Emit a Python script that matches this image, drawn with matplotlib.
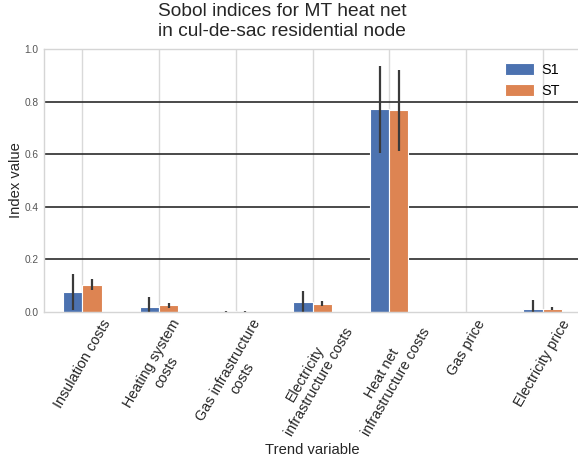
import matplotlib
matplotlib.use("Agg")
import matplotlib.pyplot as plt
import numpy as np

categories = ["Insulation costs", "Heating system\ncosts", "Gas infrastructure\ncosts",
              "Electricity\ninfrastructure costs", "Heat net\ninfrastructure costs",
              "Gas price", "Electricity price"]
s1 = [0.075, 0.018, 0.001, 0.037, 0.771, 0.0, 0.012]
s1_err = [0.068, 0.037, 0.003, 0.040, 0.166, 0.0, 0.032]
st = [0.102, 0.024, 0.0005, 0.030, 0.768, 0.0, 0.012]
st_err = [0.021, 0.009, 0.002, 0.010, 0.155, 0.0, 0.007]
series_names = ["S1", "ST"]
yticks = [0.0, 0.2, 0.4, 0.6, 0.8, 1.0]

plt.rcParams['font.family'] = ['Liberation Sans', 'DejaVu Sans']

W, H = 578, 463
fig = plt.figure(figsize=(W / 100, H / 100), dpi=100)
ax = fig.add_axes([44 / W, 1 - 311.7 / H, 537 / W, 262.4 / H])

x = np.arange(len(categories))
bw = 0.25
blue, orange = "#4C72B0", "#DD8452"
ekw = dict(ecolor="#3a3a3a", elinewidth=1.6, capsize=0)
ax.bar(x - bw / 2, s1, bw, yerr=s1_err, color=blue, edgecolor="white", linewidth=0.8,
       label=series_names[0], error_kw=ekw, zorder=2)
ax.bar(x + bw / 2, st, bw, yerr=st_err, color=orange, edgecolor="white", linewidth=0.8,
       label=series_names[1], error_kw=ekw, zorder=2)

ax.set_xlim(-0.5, len(categories) - 0.5)
ax.set_ylim(0, 1.0)
ax.set_yticks(yticks)
ax.set_yticklabels([f"{v:.1f}" for v in yticks], fontsize=7.3, color="#555555")
ax.set_xticks(x)
ax.set_xticklabels(categories, rotation=60, fontsize=10.4, color="#262626",
                   ha="center", multialignment="center")
ax.tick_params(axis="both", length=0)
ax.tick_params(axis="y", pad=4)
ax.tick_params(axis="x", pad=4)

ax.set_axisbelow(True)
ax.xaxis.grid(True, color="#d9d9d9", linewidth=1.0)
ax.yaxis.grid(True, color="#2b2b2b", linewidth=1.2)
for i, gl in enumerate(ax.yaxis.get_gridlines()):
    if i in (0, len(yticks) - 1):
        gl.set_visible(False)
for s in ax.spines.values():
    s.set_color("#d5d5d5")
    s.set_linewidth(1.0)

ax.set_ylabel("Index value", fontsize=10.6, color="#262626", labelpad=1)
ax.set_xlabel("Trend variable", fontsize=10.6, color="#262626", labelpad=3)

fig.suptitle("Sobol indices for MT heat net\nin cul-de-sac residential node",
             x=282 / W, y=1 - 3 / H, va="top", fontsize=13.8, color="#262626")

ax.legend(loc="upper left", bbox_to_anchor=(492 / W, 1 - 50 / H),
          bbox_transform=fig.transFigure, frameon=False, fontsize=10.4,
          handlelength=2.0, handleheight=0.9, labelspacing=0.5, handletextpad=0.5)

fig.savefig("out.png", dpi=100)
